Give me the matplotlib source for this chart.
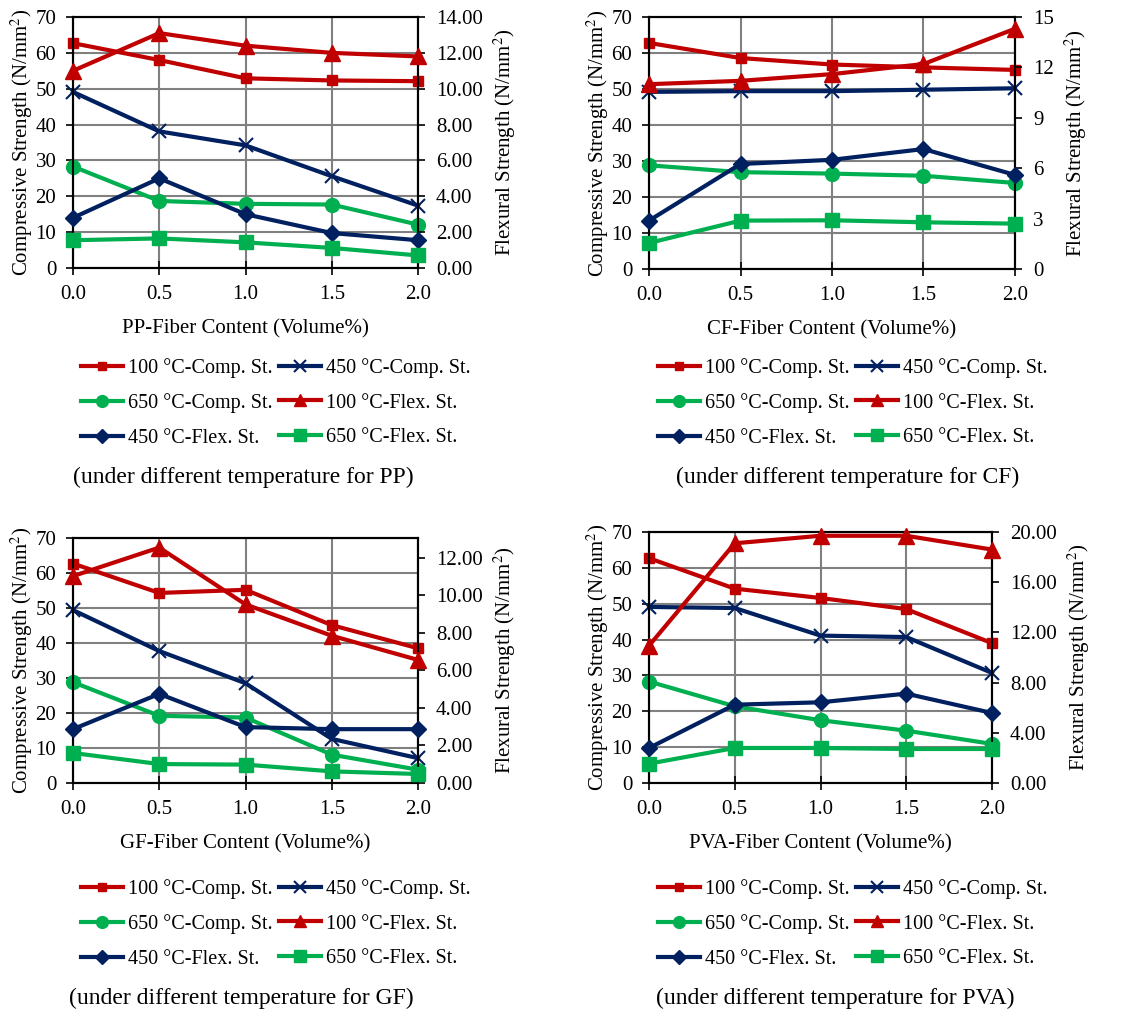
import matplotlib
matplotlib.use('Agg')
import matplotlib.pyplot as plt
from matplotlib.ticker import FormatStrFormatter
from matplotlib.lines import Line2D

plt.rcParams['font.family'] = ['Liberation Serif', 'DejaVu Serif']
plt.rcParams['mathtext.fontset'] = 'stix'

fiber = [0.0, 0.5, 1.0, 1.5, 2.0]

# PP
pp_comp100 = [62.7, 58.0, 52.9, 52.3, 52.1]
pp_comp450 = [49.1, 38.1, 34.2, 25.6, 17.4]
pp_comp650 = [28.3, 18.7, 17.9, 17.7, 12.1]
pp_flex100 = [11.0, 13.1, 12.4, 12.0, 11.8]
pp_flex450 = [2.8, 5.0, 3.0, 1.95, 1.55]
pp_flex650 = [1.55, 1.65, 1.43, 1.12, 0.7]

# CF
cf_comp100 = [62.8, 58.6, 56.8, 56.0, 55.3]
cf_comp450 = [49.2, 49.4, 49.4, 49.8, 50.2]
cf_comp650 = [28.8, 26.9, 26.5, 25.9, 23.9]
cf_flex100 = [11.0, 11.2, 11.6, 12.2, 14.3]
cf_flex450 = [2.88, 6.25, 6.5, 7.14, 5.6]
cf_flex650 = [1.55, 2.88, 2.9, 2.78, 2.7]

# GF
gf_comp100 = [62.7, 54.3, 55.2, 45.1, 38.5]
gf_comp450 = [49.4, 37.7, 28.5, 12.6, 7.1]
gf_comp650 = [28.8, 19.2, 18.7, 8.1, 3.8]
gf_flex100 = [11.03, 12.55, 9.52, 7.85, 6.56]
gf_flex450 = [2.87, 4.75, 2.98, 2.87, 2.87]
gf_flex650 = [1.6, 1.01, 0.98, 0.62, 0.48]

# PVA
pva_comp100 = [62.7, 54.2, 51.6, 48.5, 39.0]
pva_comp450 = [49.1, 48.8, 41.1, 40.7, 30.7]
pva_comp650 = [28.3, 21.4, 17.5, 14.6, 10.9]
pva_flex100 = [10.94, 19.1, 19.7, 19.7, 18.6]
pva_flex450 = [2.79, 6.24, 6.43, 7.12, 5.58]
pva_flex650 = [1.54, 2.79, 2.79, 2.71, 2.71]

legend_labels = ['100 °C-Comp. St.', '450 °C-Comp. St.', '650 °C-Comp. St.',
                 '100 °C-Flex. St.', '450 °C-Flex. St.', '650 °C-Flex. St.']

RED = '#C00000'
NAVY = '#002060'
GREEN = '#00B050'

styles = [(RED, 's', 7.5), (NAVY, 'x', 10), (GREEN, 'o', 10),
          (RED, '^', 11), (NAVY, 'D', 8.5), (GREEN, 's', 10)]

W, H = 1132, 1010
fig = plt.figure(figsize=(W / 100, H / 100), dpi=100)
FS_TICK = 15
FS_LAB = 15
FS_LEG = 14.5
FS_CAP = 17


def px_axes(l, t, r, b):
    return fig.add_axes([l / W, 1 - b / H, (r - l) / W, (b - t) / H])


def panel(box, comp, flex, rmax, rstep, rfmt, name, legx, legy, capx, capy):
    ax = px_axes(*box)
    ax2 = ax.twinx()
    for (c, m, ms), ys in zip(styles[:3], comp):
        mew = 1.5 if m == 'x' else 1
        ax.plot(fiber, ys, color=c, marker=m, ms=ms, lw=3, mew=mew, clip_on=False, zorder=3)
    for (c, m, ms), ys in zip(styles[3:], flex):
        ax2.plot(fiber, ys, color=c, marker=m, ms=ms, lw=3, clip_on=False, zorder=3)
    ax.set_xlim(0, 2)
    ax.set_ylim(0, 70)
    ax.set_xticks(fiber)
    ax.xaxis.set_major_formatter(FormatStrFormatter('%.1f'))
    ax.set_yticks(range(0, 71, 10))
    ax2.set_ylim(0, rmax)
    rt = []
    v = 0
    while v <= rmax + 1e-9:
        rt.append(v)
        v += rstep
    ax2.set_yticks(rt)
    ax2.yaxis.set_major_formatter(FormatStrFormatter(rfmt))
    ax.grid(True, color='#808080', lw=1.5)
    ax.set_axisbelow(True)
    ax.tick_params(axis='y', labelsize=FS_TICK, direction='out', length=5, width=1.2, pad=7)
    ax.tick_params(axis='x', labelsize=FS_TICK, direction='inout', length=10, width=1.2, pad=7.5)
    ax2.tick_params(axis='y', labelsize=FS_TICK, direction='out', length=5, width=1.2, pad=8)
    for a in (ax, ax2):
        for s in a.spines.values():
            s.set_linewidth(1.5)
    ax.set_ylabel('Compressive Strength (N/mm$^2$)', fontsize=FS_LAB, labelpad=0)
    ax2.set_ylabel('Flexural Strength (N/mm$^2$)', fontsize=FS_LAB, labelpad=6)
    ax.set_xlabel(name + '-Fiber Content (Volume%)', fontsize=FS_LAB, labelpad=11)

    handles = []
    for c, m, ms in styles:
        mew = 1.5 if m == 'x' else 1
        handles.append(Line2D([], [], color=c, marker=m, ms=ms * 0.85, lw=3, mew=mew))
    order = [0, 2, 4, 1, 3, 5]
    fig.legend([handles[i] for i in order], [legend_labels[i] for i in order],
               ncol=2, loc='upper left', bbox_to_anchor=(legx / W, 1 - legy / H),
               frameon=False, fontsize=FS_LEG, handlelength=2.1, handletextpad=0.25,
               columnspacing=0.3, labelspacing=0.77, borderaxespad=0, borderpad=0)
    fig.text(capx / W, 1 - capy / H, '(under different temperature for ' + name + ')',
             ha='center', va='center', fontsize=FS_CAP)


panel((73, 17, 418, 268),
      [pp_comp100, pp_comp450, pp_comp650], [pp_flex100, pp_flex450, pp_flex650],
      14, 2, '%.2f', 'PP', 81, 358, 243, 477)
panel((649, 17, 1015, 269),
      [cf_comp100, cf_comp450, cf_comp650], [cf_flex100, cf_flex450, cf_flex650],
      15, 3, '%d', 'CF', 658, 358, 848, 477)
panel((73, 538, 418, 783),
      [gf_comp100, gf_comp450, gf_comp650], [gf_flex100, gf_flex450, gf_flex650],
      13.06, 2, '%.2f', 'GF', 81, 879, 241, 998)
panel((649, 532, 992, 783),
      [pva_comp100, pva_comp450, pva_comp650], [pva_flex100, pva_flex450, pva_flex650],
      20, 4, '%.2f', 'PVA', 658, 879, 835, 998)

fig.savefig('out.png', dpi=100)
